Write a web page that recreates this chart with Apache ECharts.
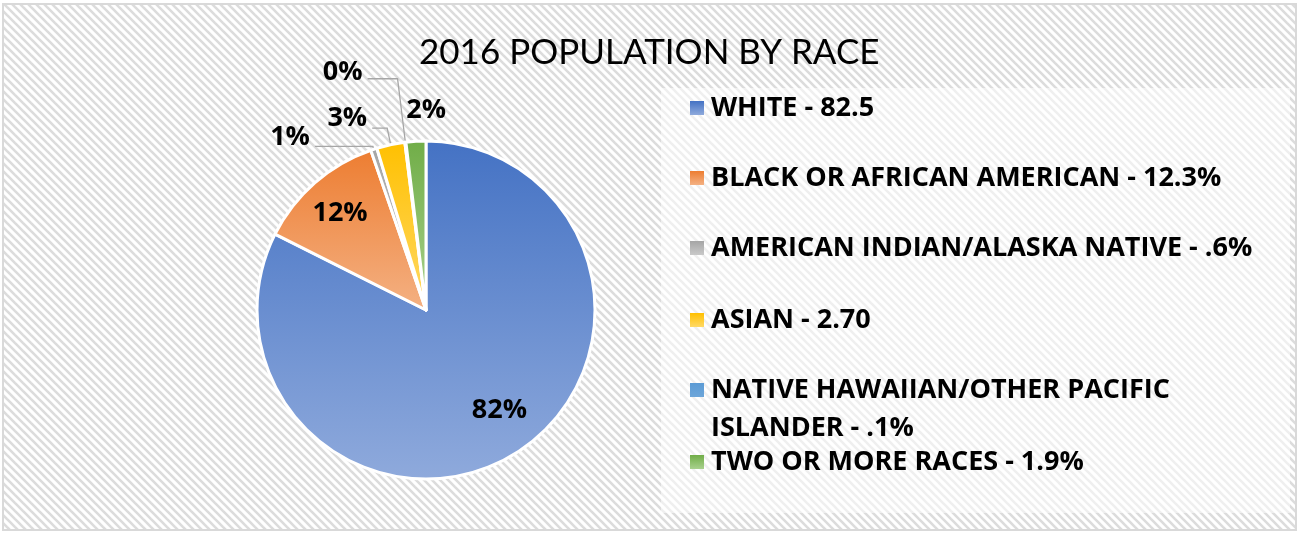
<!DOCTYPE html>
<html>
<head>
<meta charset="utf-8">
<title>2016 Population by Race</title>
<script src="https://cdn.jsdelivr.net/npm/echarts@6/dist/echarts.min.js"></script>
<style>
  html, body { margin: 0; padding: 0; background: #fff; }
  #chart { width: 1299px; height: 533px; }
</style>
</head>
<body>
<div id="chart"></div>
<script>
// ── data ──
const races = [
  "WHITE",
  "BLACK OR AFRICAN AMERICAN",
  "AMERICAN INDIAN/ALASKA NATIVE",
  "ASIAN",
  "NATIVE HAWAIIAN/OTHER PACIFIC ISLANDER",
  "TWO OR MORE RACES",
];
const shares = [82.5, 12.3, 0.6, 2.7, 0.1, 1.9];
const legendLabels = [
  "WHITE - 82.5",
  "BLACK OR AFRICAN AMERICAN - 12.3%",
  "AMERICAN INDIAN/ALASKA NATIVE - .6%",
  "ASIAN - 2.70",
  "NATIVE HAWAIIAN/OTHER PACIFIC\nISLANDER - .1%",
  "TWO OR MORE RACES - 1.9%",
];

// ── colours (Office theme, gradient top -> bottom) ──
const TOP_COLORS = ["#4472C4", "#ED7D31", "#A5A5A5", "#FFC000", "#5B9BD5", "#70AD47"];
const BOTTOM_COLORS = ["#8FAADC", "#F4B183", "#C9C9C9", "#FFD966", "#9DC3E6", "#A9D18E"];

const TITLE_FONT = "Lato, 'Open Sans', sans-serif";
const FONT = "'Open Sans', Lato, sans-serif";
const CENTER = [426, 310];
const RADIUS = 169;

// which slices carry their label inside, and the leader line setup for the others
const INSIDE = [true, true, false, false, false, false];
const INSIDE_NUDGE = [[5, -11], [0, 2]];
const OUTSIDE_LABEL = [
  null,
  null,
  { length: 3, length2: 58, distance: 5, lift: 18, line: true },
  { length: 17, length2: 15, distance: 5, lift: 20, line: true },
  { length: 64, length2: 30, distance: 5, lift: 12, line: true },
  { length: 31, length2: 0, distance: -32, lift: 0, line: false },
];

// legend row centres (y)
const LEGEND_ROWS = [108, 178, 248, 320, 390, 462];
const LINE_H = 38;
// square icon that sits on the first line of a two-line legend entry
const TALL_ICON = "path://M0,0h14v14h-14zM0,52h0.01v0.01h-0.01z";

// ── hatch pattern for the chart area ──
function makeHatch() {
  const c = document.createElement("canvas");
  c.width = 8;
  c.height = 8;
  const ctx = c.getContext("2d");
  ctx.fillStyle = "#ffffff";
  ctx.fillRect(0, 0, 8, 8);
  ctx.strokeStyle = "#dcdcdc";
  ctx.lineWidth = 2.6;
  [-8, 0, 8].forEach((k) => {
    ctx.beginPath();
    ctx.moveTo(k - 2, -2);
    ctx.lineTo(k + 10, 10);
    ctx.stroke();
  });
  return c;
}

function gradient(i) {
  return new echarts.graphic.LinearGradient(0, 0, 0, 1, [
    { offset: 0, color: TOP_COLORS[i] },
    { offset: 1, color: BOTTOM_COLORS[i] },
  ]);
}

const labelText = {
  fontFamily: FONT,
  fontWeight: "bold",
  fontSize: 27,
  color: "#000",
};

const mainData = races.map((name, i) => {
  const cfg = OUTSIDE_LABEL[i];
  const item = {
    name,
    value: shares[i],
    itemStyle: { color: gradient(i) },
  };
  if (INSIDE[i]) {
    item.label = { show: false };
    item.labelLine = { show: false };
  } else {
    // a blank second line lifts the text above the end of its leader line
    item.label = {
      show: true,
      position: "outside",
      distanceToLabelLine: cfg.distance,
      lineHeight: cfg.lift || 30,
      formatter: cfg.lift ? "{d}%\n " : "{d}%",
    };
    item.labelLine = {
      show: cfg.line,
      length: cfg.length,
      length2: cfg.length2,
    };
  }
  return item;
});

const insideData = races.map((name, i) => ({
  name,
  value: shares[i],
  label: { show: INSIDE[i] },
}));

const legends = races.map((name, i) => {
  const twoLine = legendLabels[i].indexOf("\n") >= 0;
  return {
    orient: "vertical",
    left: 690,
    top: twoLine ? LEGEND_ROWS[i] - LINE_H / 2 : LEGEND_ROWS[i] - 15,
    padding: 0,
    icon: twoLine ? TALL_ICON : "rect",
    itemWidth: 14,
    itemHeight: twoLine ? 52 : 14,
    itemGap: 0,
    data: [name],
    itemStyle: { borderWidth: 0 },
    formatter: (n) => legendLabels[races.indexOf(n)],
    textStyle: {
      ...labelText,
      lineHeight: twoLine ? LINE_H : 30,
      padding: [0, 0, 0, 2],
    },
  };
});

const chart = echarts.init(document.getElementById("chart"));

chart.setOption({
  animation: false,
  graphic: [
    {
      type: "rect",
      z: -10,
      silent: true,
      shape: { x: 3, y: 4, width: 1293, height: 526 },
      style: {
        fill: { image: makeHatch(), repeat: "repeat" },
        stroke: "#d9d9d9",
        lineWidth: 2,
      },
    },
    {
      type: "rect",
      z: -9,
      silent: true,
      shape: { x: 661, y: 88, width: 629, height: 425 },
      style: { fill: "rgba(255,255,255,0.55)" },
    },
  ],
  title: {
    text: "2016 POPULATION BY RACE",
    left: 414,
    top: 30,
    textStyle: {
      fontFamily: TITLE_FONT,
      fontWeight: "normal",
      fontSize: 35,
      color: "#000",
    },
  },
  legend: legends,
  series: [
    {
      name: "2016 Population",
      type: "pie",
      center: CENTER,
      radius: RADIUS,
      startAngle: 90,
      clockwise: true,
      avoidLabelOverlap: false,
      percentPrecision: 0,
      itemStyle: { borderColor: "#fff", borderWidth: 3 },
      label: { ...labelText, formatter: "{d}%" },
      labelLine: {
        lineStyle: { color: "#a6a6a6", width: 1.3 },
        smooth: false,
      },
      emphasis: { scale: false },
      data: mainData,
    },
    {
      name: "labels",
      type: "pie",
      center: CENTER,
      radius: [86, RADIUS],
      startAngle: 90,
      clockwise: true,
      silent: true,
      percentPrecision: 0,
      itemStyle: { color: "rgba(0,0,0,0)", borderWidth: 0 },
      label: { ...labelText, position: "inside", formatter: "{d}%" },
      labelLine: { show: false },
      labelLayout: (p) => {
        const n = INSIDE_NUDGE[p.dataIndex];
        return n ? { dx: n[0], dy: n[1] } : {};
      },
      emphasis: { disabled: true },
      data: insideData,
    },
  ],
});
</script>
</body>
</html>
